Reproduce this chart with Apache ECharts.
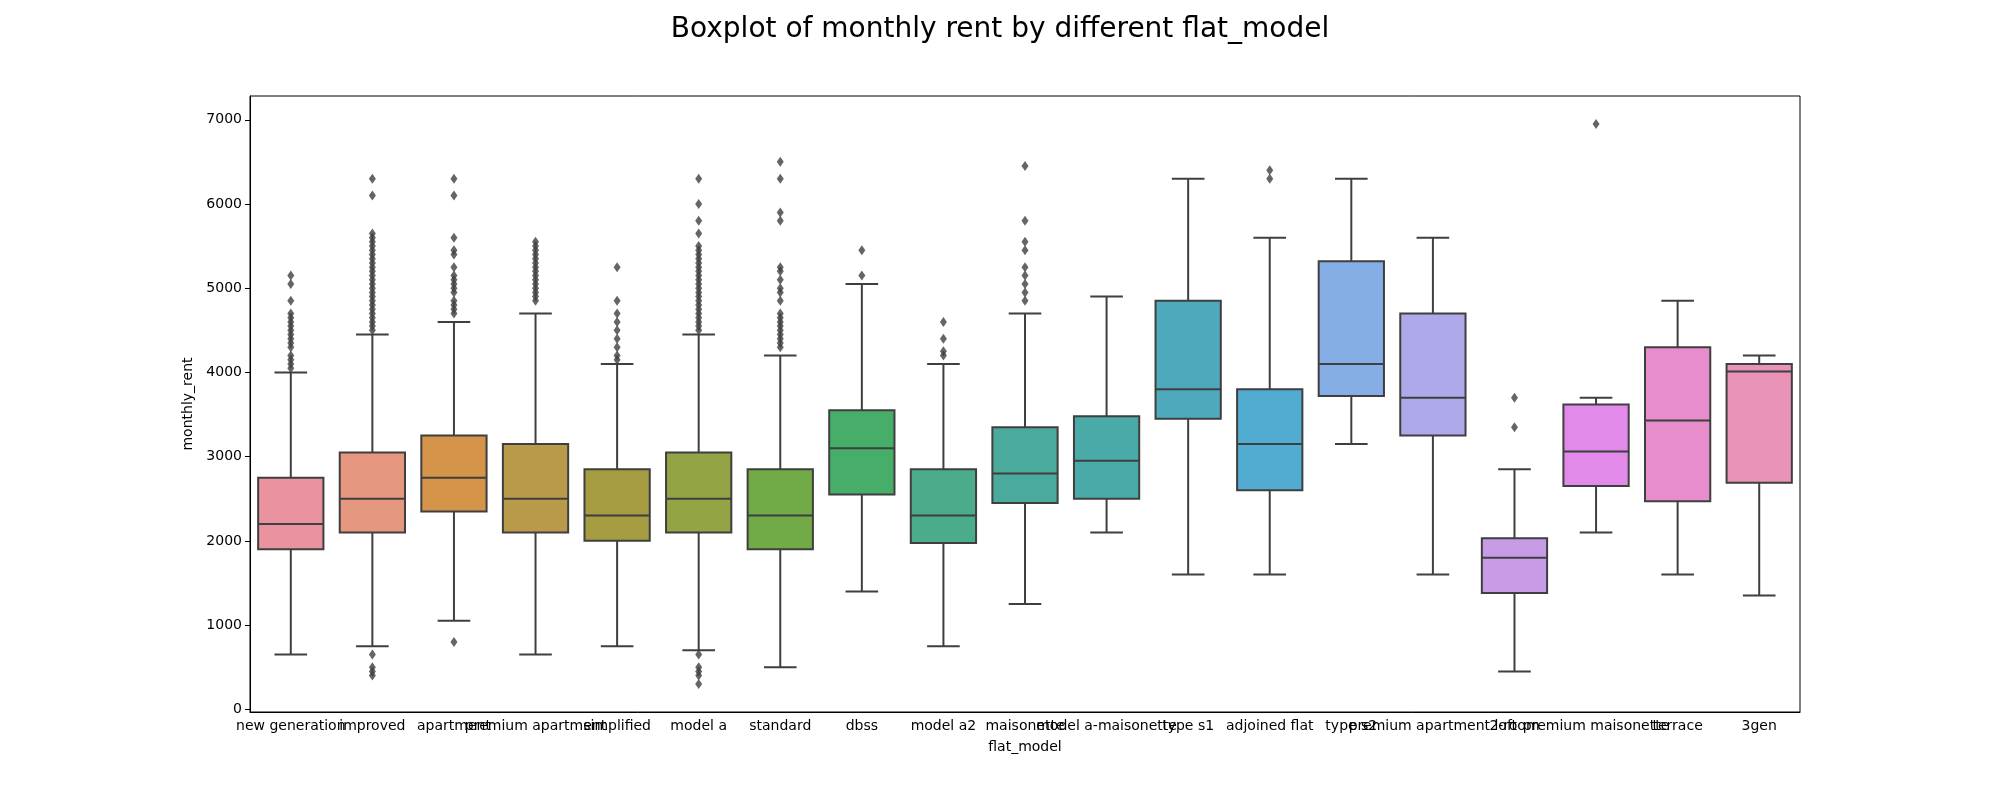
<!DOCTYPE html>
<html>
<head>
<meta charset="utf-8">
<title>Boxplot of monthly rent by different flat_model</title>
<script src="https://cdn.jsdelivr.net/npm/echarts@6/dist/echarts.min.js"></script>
<style>
  html, body { margin: 0; padding: 0; background: #fff; }
  #chart { width: 2000px; height: 800px; }
</style>
</head>
<body>
<div id="chart"></div>
<script>
// flat models in the order seaborn drew them
var categories = ['new generation', 'improved', 'apartment', 'premium apartment', 'simplified',
  'model a', 'standard', 'dbss', 'model a2', 'maisonette', 'model a-maisonette', 'type s1',
  'adjoined flat', 'type s2', 'premium apartment loft', '2-room', 'premium maisonette', 'terrace', '3gen'];

// box stats
var lowWhisker  = [650, 750, 1050, 650, 750, 700, 500, 1400, 750, 1250, 2100, 1600, 1600, 3150, 1600, 450, 2100, 1600, 1350];
var q1          = [1900, 2100, 2350, 2100, 2000, 2100, 1900, 2550, 1975, 2450, 2500, 3450, 2600, 3720, 3250, 1380, 2650, 2470, 2690];
var median      = [2200, 2500, 2750, 2500, 2300, 2500, 2300, 3100, 2300, 2800, 2950, 3800, 3150, 4100, 3700, 1800, 3060, 3430, 4010];
var q3          = [2750, 3050, 3250, 3150, 2850, 3050, 2850, 3550, 2850, 3350, 3480, 4850, 3800, 5320, 4700, 2030, 3620, 4300, 4100];
var highWhisker = [4000, 4450, 4600, 4700, 4100, 4450, 4200, 5050, 4100, 4700, 4900, 6300, 5600, 6300, 5600, 2850, 3700, 4850, 4200];

// fliers per category
var outliers = [
  [4050, 4100, 4150, 4200, 4300, 4350, 4400, 4450, 4500, 4550, 4600, 4650, 4700, 4850, 5050, 5150],
  [400, 450, 500, 650, 4500, 4550, 4600, 4650, 4700, 4750, 4800, 4850, 4900, 4950, 5000, 5050, 5100,
   5150, 5200, 5250, 5300, 5350, 5400, 5450, 5500, 5550, 5600, 5650, 6100, 6300],
  [800, 4700, 4750, 4800, 4850, 4950, 5000, 5050, 5100, 5150, 5250, 5400, 5450, 5600, 6100, 6300],
  [4850, 4900, 4950, 5000, 5050, 5100, 5150, 5200, 5250, 5300, 5350, 5400, 5450, 5500, 5550],
  [4150, 4200, 4300, 4400, 4500, 4600, 4700, 4850, 5250],
  [300, 400, 450, 500, 650, 4500, 4550, 4600, 4650, 4700, 4750, 4800, 4850, 4900, 4950, 5000, 5050,
   5100, 5150, 5200, 5250, 5300, 5350, 5400, 5450, 5500, 5650, 5800, 6000, 6300],
  [4300, 4350, 4400, 4450, 4500, 4550, 4600, 4650, 4700, 4850, 4950, 5000, 5100, 5200, 5250, 5800, 5900, 6300, 6500],
  [5150, 5450],
  [4200, 4250, 4400, 4600],
  [4850, 4950, 5050, 5150, 5250, 5450, 5550, 5800, 6450],
  [],
  [],
  [6300, 6400],
  [],
  [],
  [3350, 3700],
  [6950],
  [],
  []
];

var yTicks = [0, 1000, 2000, 3000, 4000, 5000, 6000, 7000];

var colors = ['#e8939f', '#e6977f', '#d4944a', '#b99a4a', '#a69c42', '#93a444', '#72aa47',
  '#47ae6a', '#4aac8a', '#4aaa9b', '#4aaaa8', '#4fa9bc', '#52abd0', '#84aee5', '#aeaaea',
  '#c89be6', '#e28aea', '#e88dcc', '#e993b8'];
var edge = '#3f3f3f';
var font = 'DejaVu Sans';

var boxRows = categories.map(function (c, i) {
  return [i, lowWhisker[i], q1[i], median[i], q3[i], highWhisker[i]];
});
var flierPts = [];
outliers.forEach(function (list, i) {
  list.forEach(function (v) { flierPts.push([i, v]); });
});

function renderBox(params, api) {
  var i = api.value(0);
  var lo = api.coord([i, api.value(1)]);
  var b1 = api.coord([i, api.value(2)]);
  var md = api.coord([i, api.value(3)]);
  var b3 = api.coord([i, api.value(4)]);
  var hi = api.coord([i, api.value(5)]);
  var w = api.size([1, 0])[0] * 0.8;
  var cap = w / 4;
  var cx = md[0];
  var ls = { stroke: edge, lineWidth: 2 };
  return {
    type: 'group',
    children: [
      { type: 'line', shape: { x1: cx, y1: b1[1], x2: cx, y2: lo[1] }, style: ls },
      { type: 'line', shape: { x1: cx, y1: b3[1], x2: cx, y2: hi[1] }, style: ls },
      { type: 'line', shape: { x1: cx - cap, y1: lo[1], x2: cx + cap, y2: lo[1] }, style: ls },
      { type: 'line', shape: { x1: cx - cap, y1: hi[1], x2: cx + cap, y2: hi[1] }, style: ls },
      { type: 'rect', shape: { x: cx - w / 2, y: b3[1], width: w, height: b1[1] - b3[1] },
        style: { fill: colors[i], stroke: edge, lineWidth: 2 } },
      { type: 'line', shape: { x1: cx - w / 2, y1: md[1], x2: cx + w / 2, y2: md[1] }, style: ls }
    ]
  };
}

var chart = echarts.init(document.getElementById('chart'));
chart.setOption({
  animation: false,
  backgroundColor: '#fff',
  title: {
    text: 'Boxplot of monthly rent by different flat_model',
    left: 'center',
    top: 11,
    textStyle: { fontFamily: font, fontSize: 28, fontWeight: 'normal', color: '#000' }
  },
  grid: {
    left: 250, right: 200, top: 96, bottom: 88,
    show: true, borderColor: '#000', borderWidth: 1, backgroundColor: 'transparent'
  },
  xAxis: {
    type: 'category',
    data: categories,
    name: 'flat_model',
    nameLocation: 'middle',
    nameGap: 28,
    nameTextStyle: { fontFamily: font, fontSize: 14, color: '#000' },
    axisLine: { onZero: false, lineStyle: { color: '#000', width: 1 } },
    axisTick: { alignWithLabel: true, length: 5, lineStyle: { color: '#000' } },
    axisLabel: { interval: 0, margin: 7, fontFamily: font, fontSize: 14, color: '#000' },
    splitLine: { show: false }
  },
  yAxis: {
    type: 'value',
    min: -32,
    max: 7282,
    name: 'monthly_rent',
    nameLocation: 'middle',
    nameGap: 43,
    nameTextStyle: { fontFamily: font, fontSize: 14, color: '#000' },
    axisLine: { show: true, onZero: false, lineStyle: { color: '#000', width: 1 } },
    axisTick: { show: true, length: 5, customValues: yTicks, lineStyle: { color: '#000' } },
    axisLabel: {
      margin: 8, fontFamily: font, fontSize: 14, color: '#000', customValues: yTicks,
      formatter: function (v) { return String(v); }
    },
    splitLine: { show: false }
  },
  series: [
    {
      type: 'custom',
      renderItem: renderBox,
      data: boxRows,
      encode: { x: 0, y: [1, 2, 3, 4, 5] },
      z: 2
    },
    {
      type: 'scatter',
      data: flierPts,
      symbol: 'diamond',
      symbolSize: [7, 10],
      itemStyle: { color: edge },
      z: 3
    }
  ]
});
</script>
</body>
</html>
